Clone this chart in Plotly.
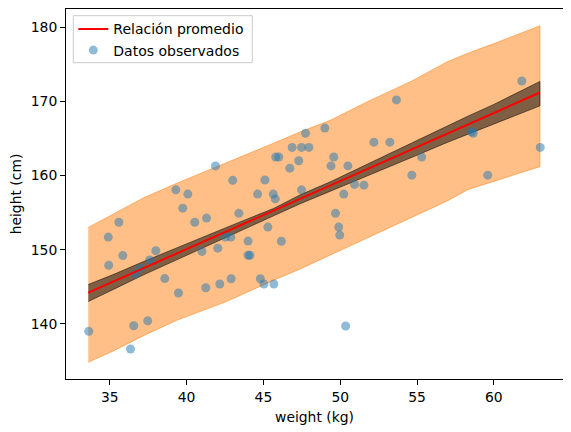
import plotly.graph_objects as go

# Observed data (weight kg, height cm)
weight = [33.63, 34.90, 34.93, 35.59, 35.85, 36.35, 36.56, 36.67, 37.00, 37.47,
          37.60, 38.00, 38.58, 39.30, 39.47, 39.75, 40.08, 40.53, 41.00, 41.25,
          41.30, 41.88, 42.03, 42.16, 42.53, 42.88, 42.90, 43.00, 43.40, 44.00,
          44.00, 44.12, 44.62, 44.80, 45.03, 45.10, 45.29, 45.64, 45.68, 45.77,
          45.80, 46.00, 46.17, 46.72, 46.87, 47.30, 47.48, 47.48, 47.74, 47.96,
          49.00, 49.40, 49.58, 49.69, 49.90, 49.97, 50.23, 50.35, 50.50, 50.93,
          51.54, 52.19, 53.23, 53.66, 54.66, 55.30, 58.55, 58.66, 59.60, 61.82,
          63.02]
height = [138.98, 151.70, 147.90, 153.70, 149.20, 136.60, 139.74, 146.70, 147.50, 140.40,
          148.60, 149.85, 146.10, 158.07, 144.15, 155.60, 157.50, 153.70, 149.76, 144.86,
          154.26, 161.30, 150.20, 145.36, 151.70, 151.70, 146.08, 159.35, 154.90, 151.16,
          149.25, 149.25, 157.50, 146.08, 145.36, 159.40, 153.05, 157.50, 145.36, 156.85,
          162.50, 162.50, 151.13, 161.00, 163.80, 162.00, 163.80, 158.07, 165.70, 163.80,
          166.40, 161.30, 162.50, 154.90, 153.05, 151.97, 157.50, 139.70, 161.30, 158.80,
          158.70, 164.50, 164.50, 170.20, 160.05, 162.50, 165.90, 165.70, 160.05, 172.76,
          163.80]

# Prediction interval (orange) and mean interval (dark) on a weight grid
band_x = [33.6, 35.3, 37.2, 39.4, 42.6, 45.7, 47.4, 49.4, 51.8, 54.6, 57.0, 58.3, 60.0, 63.0]
pi_upper = [153.0, 154.9, 157.0, 159.0, 161.7, 164.4, 165.9, 167.5, 170.0, 172.7, 175.4, 176.5, 177.8, 180.2]
pi_lower = [134.8, 136.4, 138.4, 140.5, 143.0, 145.9, 147.4, 149.4, 151.6, 154.3, 156.6, 158.1, 159.2, 161.2]
mu_upper = [145.3, 146.7, 148.4, 150.3, 153.0, 155.6, 157.4, 159.2, 161.6, 164.3, 166.7, 168.0, 169.6, 172.7]
mu_lower = [143.0, 144.7, 146.6, 148.7, 151.7, 154.6, 156.2, 157.9, 160.0, 162.4, 164.5, 165.6, 167.0, 169.4]

# Mean relation line
line_x = [33.6, 63.0]
line_y = [144.2, 171.2]

FONT = "DejaVu Sans"
FS = 14

fig = go.Figure()

fig.add_trace(go.Scatter(
    x=band_x + band_x[::-1], y=pi_upper + pi_lower[::-1],
    fill="toself", fillcolor="rgba(255,127,14,0.5)",
    line=dict(color="rgba(255,127,14,0.5)", width=1),
    mode="lines", showlegend=False, hoverinfo="skip"))

fig.add_trace(go.Scatter(
    x=band_x + band_x[::-1], y=mu_upper + mu_lower[::-1],
    fill="toself", fillcolor="rgba(0,0,0,0.5)",
    line=dict(color="rgba(0,0,0,0.5)", width=1),
    mode="lines", showlegend=False, hoverinfo="skip"))

fig.add_trace(go.Scatter(
    x=weight, y=height, mode="markers", name="Datos observados",
    marker=dict(color="rgba(31,119,180,0.5)", size=9, line=dict(width=0)),
    legendrank=2))

fig.add_trace(go.Scatter(
    x=line_x, y=line_y, mode="lines", name="Relación promedio",
    line=dict(color="red", width=2), legendrank=1))

axis_common = dict(
    showline=True, mirror=True, linecolor="black", linewidth=1,
    ticks="outside", ticklen=5, tickwidth=1, tickcolor="black",
    showgrid=False, zeroline=False,
    tickfont=dict(family=FONT, size=13.9, color="black"),
)

# page body has an 8px margin, so the figure is sized/offset to compensate
fig.update_layout(
    width=563, height=424,
    margin=dict(l=58, r=8, t=1, b=53),
    plot_bgcolor="white", paper_bgcolor="white",
    font=dict(family=FONT, size=13.9, color="black"),
    xaxis=dict(range=[32.15, 64.5], tickvals=[35, 40, 45, 50, 55, 60],
               title=dict(text="weight (kg)", font=dict(family=FONT, size=13.9), standoff=8),
               **axis_common),
    yaxis=dict(range=[132.55, 182.47], tickvals=[140, 150, 160, 170, 180],
               title=dict(text="height (cm)", font=dict(family=FONT, size=13.9), standoff=6),
               **axis_common),
    legend=dict(x=0.0147, y=0.9884, xanchor="left", yanchor="top",
                bgcolor="rgba(0,0,0,0)", borderwidth=0,
                font=dict(family=FONT, size=FS)),
    showlegend=True,
    shapes=[dict(type="rect", xref="paper", yref="paper",
                 x0=0.0147, x1=0.3748, y0=0.8549, y1=0.9819,
                 fillcolor="rgba(255,255,255,0.8)",
                 line=dict(color="#cccccc", width=1), layer="above")],
)

fig.write_html("out.html")
